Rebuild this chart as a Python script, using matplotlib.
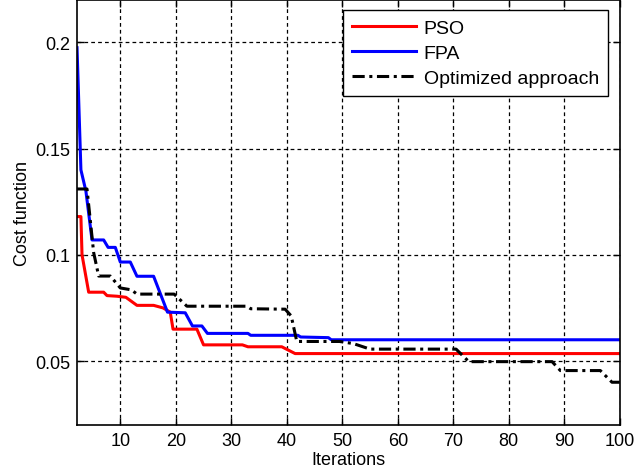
import matplotlib
matplotlib.use("Agg")
import matplotlib.pyplot as plt

plt.rcParams['font.family'] = ['Liberation Sans', 'DejaVu Sans']

# Data (iteration, cost)
pso_x = [2.2, 2.9, 3.1, 4.3, 7.0, 7.6, 9.4, 11.0, 13.0, 16.0, 17.7, 19.0, 19.5, 23.8, 25.0, 32.0, 33.0, 39.1, 41.5, 100]
pso_y = [0.118, 0.118, 0.100, 0.0824, 0.0824, 0.0808, 0.0805, 0.0800, 0.0762, 0.0762, 0.0750, 0.0730, 0.0650, 0.0650, 0.0576, 0.0576, 0.0567, 0.0567, 0.0535, 0.0535]

fpa_x = [2.2, 2.9, 3.8, 4.9, 7.0, 7.8, 9.1, 10.0, 11.8, 13.0, 16.0, 18.5, 21.7, 23.0, 24.7, 25.7, 33.0, 33.5, 42.0, 42.5, 47.5, 48.0, 100]
fpa_y = [0.1975, 0.140, 0.130, 0.107, 0.107, 0.1035, 0.1035, 0.0966, 0.0966, 0.0899, 0.0899, 0.0730, 0.0727, 0.0665, 0.0665, 0.0630, 0.0630, 0.0621, 0.0621, 0.0613, 0.0610, 0.0600, 0.0600]

opt_x = [2.2, 4.0, 5.2, 6.1, 8.2, 10.0, 12.0, 13.0, 19.7, 22.0, 32.8, 33.5, 39.7, 40.8, 41.8, 49.5, 52.0, 55.0, 69.5, 70.5, 72.8, 87.8, 89.3, 96.5, 98.6, 100]
opt_y = [0.131, 0.131, 0.101, 0.090, 0.090, 0.0844, 0.0835, 0.0815, 0.0815, 0.0758, 0.0758, 0.0746, 0.0744, 0.0712, 0.0592, 0.0592, 0.0582, 0.0556, 0.0556, 0.0556, 0.0497, 0.0497, 0.0455, 0.0455, 0.0400, 0.0400]

x_ticks = [10, 20, 30, 40, 50, 60, 70, 80, 90, 100]
y_ticks = [0.05, 0.1, 0.15, 0.2]
y_tick_labels = ["0.05", "0.1", "0.15", "0.2"]

fig = plt.figure(figsize=(6.35, 4.77), dpi=100)
ax = fig.add_axes([0.1213, 0.1075, 0.8547, 0.8905])

ax.plot(pso_x, pso_y, color='#ff0000', lw=2.2, label='PSO')
ax.plot(fpa_x, fpa_y, color='#0000ff', lw=2.2, label='FPA')
ax.plot(opt_x, opt_y, color='black', lw=2.2, linestyle=(0, (4, 1.5, 1, 1.5)), label='Optimized approach')

ax.set_xlim(2.2, 100)
ax.set_ylim(0.02, 0.22)
ax.set_xticks(x_ticks)
ax.set_yticks(y_ticks)
ax.set_yticklabels(y_tick_labels)
ax.tick_params(direction='in', top=True, right=True, length=5, width=1, labelsize=13, pad=5)
for s in ax.spines.values():
    s.set_linewidth(1.2)

ax.grid(True, color='black', linestyle=(0, (3, 2.5)), linewidth=0.9)

ax.set_xlabel('Iterations', fontsize=13, labelpad=2)
ax.set_ylabel('Cost function', fontsize=13, labelpad=3)

leg = ax.legend(loc='upper right', fontsize=14, fancybox=False, framealpha=1,
                edgecolor='black', borderpad=0.45, labelspacing=0.4, handlelength=3.3,
                handletextpad=0.4, borderaxespad=0, bbox_to_anchor=(0.978, 0.976))
leg.get_frame().set_linewidth(1.0)

fig.savefig('out.png', dpi=100)
